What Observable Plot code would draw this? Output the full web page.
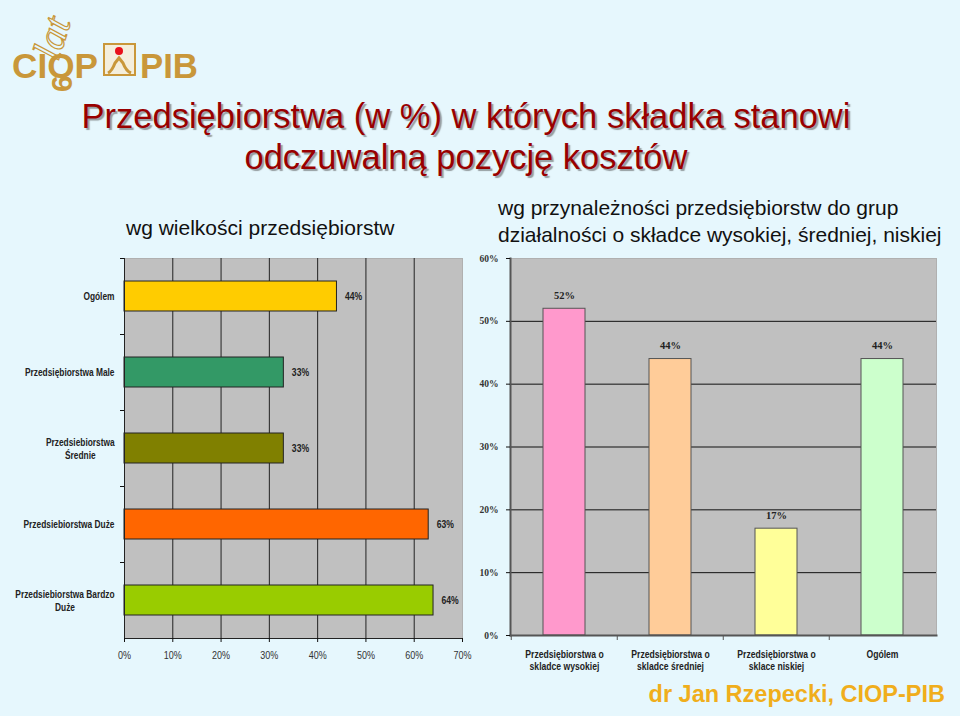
<!DOCTYPE html>
<html><head><meta charset="utf-8">
<script src="https://cdn.jsdelivr.net/npm/d3@7"></script>
<script src="https://cdn.jsdelivr.net/npm/@observablehq/plot@0.6"></script>
<style>
html,body{margin:0;padding:0;background:#E6F7FD;}
#slide{position:relative;width:960px;height:716px;overflow:hidden;background:#E6F7FD;font-family:"Liberation Sans",Arial,sans-serif;}
.title{position:absolute;left:0;top:96px;width:932px;text-align:center;color:#990000;font-size:34.5px;line-height:41px;text-shadow:2px 2px 1px rgba(70,70,70,0.5);}
.sub{position:absolute;color:#111;font-size:21px;line-height:27px;white-space:nowrap;}
.footer{position:absolute;right:15px;top:681px;color:#F0AE1C;font-weight:bold;font-size:23.5px;}
#left{position:absolute;left:0;top:250px;}
#right{position:absolute;left:470px;top:250px;}
#logo{position:absolute;left:0;top:0;}
</style></head>
<body><div id="slide">
<svg id="logo" width="210" height="100">
  <text x="58" y="62" transform="rotate(-72 58 62)" font-family="Liberation Serif" font-style="italic" font-size="40" fill="none" stroke="#C9973A" stroke-width="1.2">lat</text>
  <text x="12" y="78" font-family="Liberation Sans" font-weight="bold" font-size="35" fill="#C9973A" textLength="86" lengthAdjust="spacingAndGlyphs">CIOP</text>
  <text x="72" y="92" transform="rotate(-90 72 92)" font-family="Liberation Sans" font-weight="bold" font-size="30" fill="#C9973A">6</text>
  <rect x="104" y="44" width="31" height="31" fill="#F4EEDC" stroke="#C9973A" stroke-width="2"/>
  <circle cx="119" cy="51" r="4" fill="#E8101A"/>
  <path d="M108 73 Q112 71 115 63 L119 58 L123 63 Q126 71 131 73" fill="none" stroke="#C9973A" stroke-width="3"/>
  <text x="140" y="78" font-family="Liberation Sans" font-weight="bold" font-size="35" fill="#C9973A" textLength="58" lengthAdjust="spacingAndGlyphs">PIB</text>
</svg>
<div class="title">Przedsiębiorstwa (w %) w których składka stanowi<br>odczuwalną pozycję kosztów</div>
<div class="sub" style="left:126px;top:214px;">wg wielkości przedsiębiorstw</div>
<div class="sub" style="left:498px;top:194px;">wg przynależności przedsiębiorstw do grup<br>działalności o składce wysokiej, średniej, niskiej</div>
<div id="left"></div>
<div id="right"></div>
<div class="footer">dr Jan Rzepecki, CIOP-PIB</div>
</div>
<script>
// ---- data: left chart (by enterprise size) ----
const sizeCategories = ["Ogólem", "Przedsiębiorstwa Male", "Przedsiebiorstwa Średnie", "Przedsiebiorstwa Duże", "Przedsiebiorstwa Bardzo Duże"];
const sizeLabels = ["Ogólem", "Przedsiębiorstwa Male", "Przedsiebiorstwa\nŚrednie", "Przedsiebiorstwa Duże", "Przedsiebiorstwa Bardzo\nDuże"];
const sizeValues = [44, 33, 33, 63, 64];
const sizeColors = ["#FFCC00", "#339966", "#808000", "#FF6600", "#99CC00"];
const sizeTicks = [0, 10, 20, 30, 40, 50, 60, 70];

// ---- data: right chart (by contribution group) ----
const groupCategories = ["Przedsiębiorstwa o skladce wysokiej", "Przedsiębiorstwa o skladce średniej", "Przedsiębiorstwa o sklace niskiej", "Ogólem"];
const groupLabels = ["Przedsiębiorstwa o\nskladce wysokiej", "Przedsiębiorstwa o\nskladce średniej", "Przedsiębiorstwa o\nsklace niskiej", "Ogólem"];
const groupValues = [52, 44, 17, 44];
const groupColors = ["#FF99CC", "#FFCC99", "#FFFF99", "#CCFFCC"];
const groupTicks = [0, 10, 20, 30, 40, 50, 60];

const sans = "'Liberation Sans',Arial,sans-serif";
const serif = "'Liberation Serif','Times New Roman',serif";
const NARROW = 0.82; // Arial Narrow ≈ Arial compressed horizontally

const sizeData = sizeCategories.map((c, i) => ({cat: c, value: sizeValues[i]}));
const groupData = groupCategories.map((c, i) => ({cat: c, value: groupValues[i]}));

function condense(svg, selector) {
  d3.select(svg).selectAll(selector).each(function() {
    const tr = this.getAttribute("transform");
    if (tr) {
      this.setAttribute("transform", tr + ` scale(${NARROW},1)`);
    } else {
      const x = +this.getAttribute("x") || 0, y = +this.getAttribute("y") || 0;
      this.setAttribute("x", 0); this.setAttribute("y", 0);
      this.querySelectorAll("tspan").forEach(t => t.setAttribute("x", 0));
      this.setAttribute("transform", `translate(${x},${y}) scale(${NARROW},1)`);
    }
  });
}
function centerBlocks(svg, selector) {
  d3.select(svg).selectAll(selector).each(function() {
    const tspans = this.querySelectorAll("tspan");
    if (tspans.length > 1) {
      const bb = this.getBBox();
      this.setAttribute("text-anchor", "middle");
      tspans.forEach(t => t.setAttribute("x", bb.x + bb.width / 2));
    }
  });
}

// left chart
const L = {w: 480, h: 430, ml: 124, mr: 18, mt: 8, mb: 42};
const lStep = (L.h - L.mt - L.mb) / (sizeCategories.length - 0.6 + 0.6);
const left = Plot.plot({
  width: L.w, height: L.h,
  marginLeft: L.ml, marginRight: L.mr, marginTop: L.mt, marginBottom: L.mb,
  style: {background: "transparent", color: "#111", overflow: "visible"},
  x: {domain: [0, 70], label: null},
  y: {domain: sizeCategories, paddingInner: 0.6, paddingOuter: 0.3, label: null},
  color: {domain: sizeCategories, range: sizeColors},
  marks: [
    Plot.frame({fill: "#C0C0C0", stroke: "#B0B0B0"}),
    Plot.gridX(sizeTicks.filter(t => t > 0 && t < 70), {stroke: "#222", strokeOpacity: 1}),
    Plot.barX(sizeData, {x: "value", y: "cat", fill: "cat", stroke: "#222", strokeWidth: 1}),
    Plot.text(sizeData, {x: "value", y: "cat", text: d => d.value + "%", textAnchor: "start", dx: 8,
      fontFamily: sans, fontWeight: "bold", fontSize: 10.5, fill: "#222"}),
    Plot.ruleX([0], {stroke: "#222"}),
    Plot.frame({anchor: "bottom", stroke: "#222"}),
    Plot.axisX({ticks: sizeTicks, tickSize: 4, tickPadding: 9, tickFormat: d => d + "%", label: null,
      fontFamily: sans, fontSize: 11, fill: "#333"}),
    Plot.axisY({tickSize: 0, tickPadding: 10, label: null, tickFormat: (d) => sizeLabels[sizeCategories.indexOf(d)],
      fontFamily: sans, fontWeight: "bold", fontSize: 10.2, fill: "#222", lineHeight: 1.2}),
    Plot.axisY({tickSize: 4, tickFormat: () => "", label: null, dy: -lStep / 2})
  ]
});
document.getElementById("left").appendChild(left);
centerBlocks(left, 'g[aria-label="y-axis tick label"] text');
condense(left, 'g[aria-label="y-axis tick label"] text');
condense(left, 'g[aria-label="x-axis tick label"] text');
condense(left, 'g[aria-label="text"] text');

// right chart
const R = {w: 490, h: 430, ml: 40, mr: 24, mt: 8, mb: 45};
const rStep = (R.w - R.ml - R.mr) / (groupCategories.length - 0.6 + 0.6);
const right = Plot.plot({
  width: R.w, height: R.h,
  marginLeft: R.ml, marginRight: R.mr, marginTop: R.mt, marginBottom: R.mb,
  style: {background: "transparent", color: "#111", overflow: "visible"},
  x: {domain: groupCategories, paddingInner: 0.6, paddingOuter: 0.3, label: null},
  y: {domain: [0, 60], label: null},
  color: {domain: groupCategories, range: groupColors},
  marks: [
    Plot.frame({fill: "#C0C0C0", stroke: "#B0B0B0"}),
    Plot.gridY(groupTicks.filter(t => t > 0 && t < 60), {stroke: "#111", strokeOpacity: 1}),
    Plot.barY(groupData, {x: "cat", y: "value", fill: "cat", stroke: "#555", strokeWidth: 1}),
    Plot.text(groupData, {x: "cat", y: "value", text: d => d.value + "%", dy: -13,
      fontFamily: serif, fontWeight: "bold", fontSize: 10.5, fill: "#222"}),
    Plot.frame({anchor: "left", stroke: "#555", strokeWidth: 2}),
    Plot.frame({anchor: "bottom", stroke: "#555", strokeWidth: 2}),
    Plot.axisY({ticks: groupTicks, tickSize: 4, tickPadding: 8, tickFormat: d => d + "%", label: null,
      fontFamily: serif, fontWeight: "bold", fontSize: 9.5, fill: "#333"}),
    Plot.axisX({tickSize: 0, tickPadding: 14, label: null, tickFormat: d => groupLabels[groupCategories.indexOf(d)],
      fontFamily: sans, fontWeight: "bold", fontSize: 10.5, fill: "#222", lineHeight: 1.15}),
    Plot.axisX({tickSize: 5, tickFormat: () => "", label: null, dx: -rStep / 2, stroke: "#555"})
  ]
});
document.getElementById("right").appendChild(right);
condense(right, 'g[aria-label="x-axis tick label"] text');
</script>
</body></html>
